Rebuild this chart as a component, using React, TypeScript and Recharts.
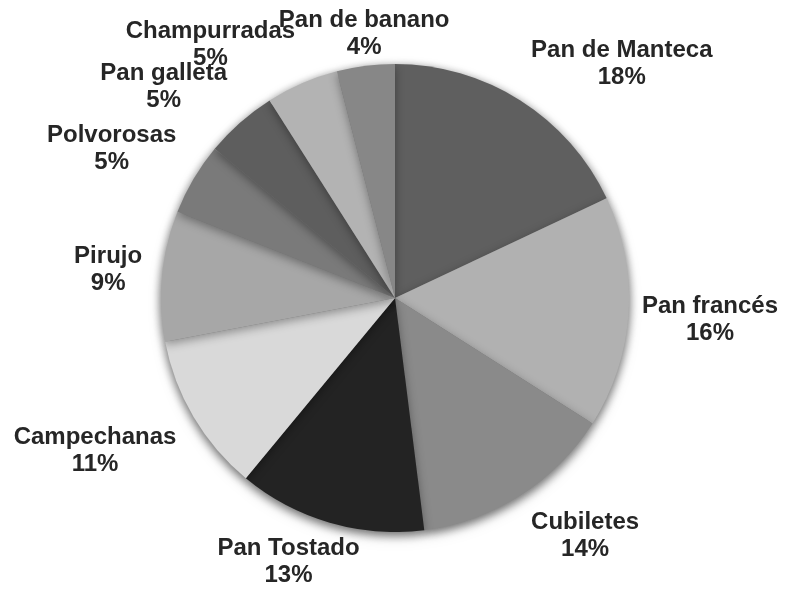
import React from "react";
import { PieChart, Pie, Cell } from "recharts";

const names = [
  "Pan de Manteca",
  "Pan francés",
  "Cubiletes",
  "Pan Tostado",
  "Campechanas",
  "Pirujo",
  "Polvorosas",
  "Pan galleta",
  "Champurradas",
  "Pan de banano",
];
const shares = [18, 16, 14, 13, 11, 9, 5, 5, 5, 4];
const colors = [
  "#5f5f5f",
  "#b1b1b1",
  "#8a8a8a",
  "#232323",
  "#d9d9d9",
  "#a7a7a7",
  "#7a7a7a",
  "#5e5e5e",
  "#b3b3b3",
  "#878787",
];

const data = names.map((name, i) => ({ name, value: shares[i] }));

const W = 772;
const H = 574;
const FONT = "bold 24px 'Liberation Sans', Arial, sans-serif";

let ctx: CanvasRenderingContext2D | null = null;
const textWidth = (s: string) => {
  if (!ctx && typeof document !== "undefined") {
    ctx = document.createElement("canvas").getContext("2d");
  }
  if (!ctx) return s.length * 13;
  ctx.font = FONT;
  return ctx.measureText(s).width;
};

const clamp = (v: number, lo: number, hi: number) => Math.min(hi, Math.max(lo, v));

// outside labels, box pushed away from the pie the way Excel's "best fit" does
const renderLabel = (props: any) => {
  const { cx, cy, midAngle, outerRadius, index, percent } = props;
  const rad = Math.PI / 180;
  const ux = Math.cos(-midAngle * rad);
  const uy = Math.sin(-midAngle * rad);
  const kx = Math.sign(ux) * clamp((Math.abs(ux) - 0.15) * 4, 0, 1);
  const ky = clamp(uy * 3, -1, 1);
  const gap = 20 - 8 * (1 - Math.abs(kx));
  const px = cx + (outerRadius + gap) * ux;
  const py = cy + (outerRadius + gap) * uy;
  const w = textWidth(names[index]);
  const h = 44;
  // keep the label box inside the chart area
  const bx = clamp(px + (kx * w) / 2, w / 2 + 2, W - w / 2 - 2);
  const by = py + (ky * h) / 2;
  return (
    <text textAnchor="middle" fill="#262626" style={{ font: FONT }}>
      <tspan x={bx} y={by - 5}>
        {names[index]}
      </tspan>
      <tspan x={bx} y={by + 22}>
        {`${Math.round(percent * 100)}%`}
      </tspan>
    </text>
  );
};

export default function App() {
  return (
    <div style={{ width: W, height: H }}>
      <style>{`.pie-body { filter: drop-shadow(0px 3px 5px rgba(0,0,0,0.35)); }`}</style>
      <PieChart
        width={W}
        height={H}
        margin={{ top: 0, right: 0, bottom: 0, left: 0 }}
      >
        <Pie
          className="pie-body"
          data={data}
          dataKey="value"
          nameKey="name"
          cx={387}
          cy={290}
          outerRadius={234}
          startAngle={90}
          endAngle={-270}
          stroke="none"
          label={false}
          labelLine={false}
          isAnimationActive={false}
        >
          {data.map((d, i) => (
            <Cell key={d.name} fill={colors[i]} />
          ))}
        </Pie>
        <Pie
          data={data}
          dataKey="value"
          nameKey="name"
          cx={387}
          cy={290}
          outerRadius={234}
          startAngle={90}
          endAngle={-270}
          fill="transparent"
          stroke="none"
          label={renderLabel}
          labelLine={false}
          isAnimationActive={false}
        />
      </PieChart>
    </div>
  );
}
